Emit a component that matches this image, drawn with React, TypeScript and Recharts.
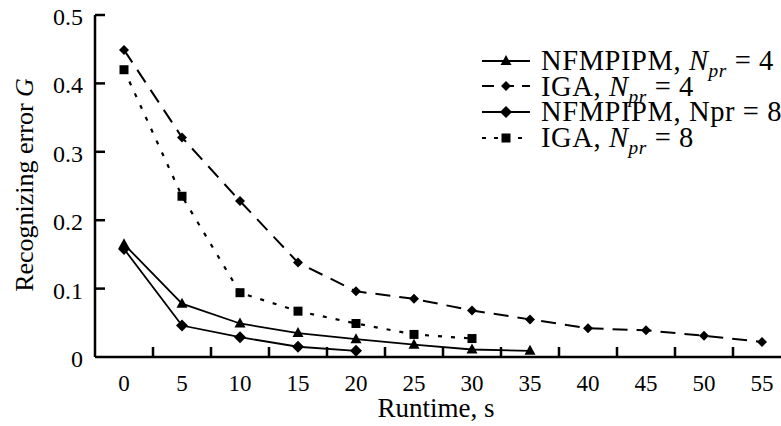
import React from 'react';
import { LineChart, Line, XAxis, YAxis, Legend, Label } from 'recharts';

// ---- data ----
const runtime = [0, 5, 10, 15, 20, 25, 30, 35, 40, 45, 50, 55];
const nfmpipm4 = [0.165, 0.078, 0.049, 0.035, 0.026, 0.018, 0.011, 0.009, null, null, null, null];
const iga4 = [0.449, 0.321, 0.228, 0.138, 0.096, 0.085, 0.068, 0.055, 0.042, 0.039, 0.031, 0.022];
const nfmpipm8 = [0.158, 0.046, 0.029, 0.015, 0.009, null, null, null, null, null, null, null];
const iga8 = [0.42, 0.235, 0.094, 0.067, 0.049, 0.033, 0.027, null, null, null, null, null];

const xTicks = [0, 5, 10, 15, 20, 25, 30, 35, 40, 45, 50, 55];
const yTicks = [0, 0.1, 0.2, 0.3, 0.4, 0.5];

const data = runtime.map((t, i) => ({
  t,
  nf4: nfmpipm4[i],
  iga4: iga4[i],
  nf8: nfmpipm8[i],
  iga8: iga8[i],
}));

const FONT = '"Liberation Serif", "Times New Roman", Times, serif';
const INK = '#000';
const X_DOMAIN: [number, number] = [-2.5, 57.5];
const Y_DOMAIN: [number, number] = [0, 0.5];
const X_STEP = 5;
const TICK_LEN = 10;
const TICK_W = 2.5;
const X_TICK_MARGIN = 18;
const Y_TICK_MARGIN = 12;

type Kind = 'triangle' | 'diamondSmall' | 'diamond' | 'square';

function Marker({ kind, cx, cy }: { kind: Kind; cx: number; cy: number }) {
  if (kind === 'triangle') {
    return <polygon points={`${cx},${cy - 6} ${cx - 5.5},${cy + 4} ${cx + 5.5},${cy + 4}`} fill={INK} />;
  }
  if (kind === 'square') {
    return <rect x={cx - 4.5} y={cy - 4.5} width={9} height={9} fill={INK} />;
  }
  const r = kind === 'diamond' ? 6 : 5;
  return <polygon points={`${cx},${cy - r} ${cx + r},${cy} ${cx},${cy + r} ${cx - r},${cy}`} fill={INK} />;
}

function makeDot(kind: Kind) {
  return (props: any) => {
    const { cx, cy, index } = props;
    const v = Array.isArray(props.value) ? props.value[1] : props.value;
    if (cx == null || cy == null || Number.isNaN(cx) || Number.isNaN(cy) || v == null) {
      return <g key={`d-${kind}-${index}`} />;
    }
    return <Marker key={`d-${kind}-${index}`} kind={kind} cx={cx} cy={cy} />;
  };
}

// X tick: label at the category centre + inward mark on the boundary between categories
const renderXTick = (props: any) => {
  const { x, y, payload, width } = props;
  const span = X_DOMAIN[1] - X_DOMAIN[0];
  const w = typeof width === 'number' && width > 100 ? width : 696;
  const half = ((X_STEP / 2) / span) * w;
  const axisY = y - X_TICK_MARGIN;
  return (
    <g>
      <text x={x} y={y} dy="0.71em" textAnchor="middle" fill={INK} fontSize={23} fontFamily={FONT}>
        {payload.value}
      </text>
      <line x1={x + half} y1={axisY} x2={x + half} y2={axisY - TICK_LEN} stroke={INK} strokeWidth={TICK_W} />
    </g>
  );
};

// Y tick: label left of the axis + inward mark
const renderYTick = (props: any) => {
  const { x, y, payload } = props;
  const axisX = x + Y_TICK_MARGIN;
  return (
    <g>
      <text x={x} y={y} dy={10} textAnchor="end" fill={INK} fontSize={24} fontFamily={FONT}>
        {payload.value === 0 ? '0' : String(payload.value)}
      </text>
      {payload.value > 0 && (
        <line x1={axisX} y1={y} x2={axisX + TICK_LEN} y2={y} stroke={INK} strokeWidth={TICK_W} />
      )}
    </g>
  );
};

const subStyle: React.CSSProperties = { fontSize: '0.68em', lineHeight: 0, fontStyle: 'italic' };

const legendRows: { kind: Kind; dash?: string; label: React.ReactNode }[] = [
  {
    kind: 'triangle',
    label: (
      <>
        NFMPIPM, <i>N</i>
        <sub style={subStyle}>pr</sub> = 4
      </>
    ),
  },
  {
    kind: 'diamondSmall',
    dash: '12 8',
    label: (
      <>
        IGA, <i>N</i>
        <sub style={subStyle}>pr</sub> = 4
      </>
    ),
  },
  { kind: 'diamond', label: <>NFMPIPM, Npr = 8</> },
  {
    kind: 'square',
    dash: '4 8',
    label: (
      <>
        IGA, <i>N</i>
        <sub style={subStyle}>pr</sub> = 8
      </>
    ),
  },
];

function LegendContent() {
  return (
    <div style={{ fontFamily: FONT, color: INK }}>
      {legendRows.map((r, i) => (
        <div key={i} style={{ display: 'flex', alignItems: 'center', height: 25.6 }}>
          <svg width={50} height={24} style={{ flex: 'none' }}>
            <line x1={1} y1={12} x2={49} y2={12} stroke={INK} strokeWidth={2} strokeDasharray={r.dash} />
            <Marker kind={r.kind} cx={25} cy={12} />
          </svg>
          <span
            style={{ marginLeft: 10, fontSize: 28.5, letterSpacing: 0.6, lineHeight: '25.6px', whiteSpace: 'nowrap' }}
          >
            {r.label}
          </span>
        </div>
      ))}
    </div>
  );
}

export default function App() {
  return (
    <div
      style={{
        position: 'fixed',
        left: 0,
        top: 0,
        width: 781,
        height: 426,
        overflow: 'hidden',
        background: '#fff',
      }}
    >
      <LineChart width={800} height={426} data={data} margin={{ top: 15, right: 9, bottom: 0, left: 0 }}>
        <XAxis
          dataKey="t"
          type="number"
          domain={X_DOMAIN}
          ticks={xTicks}
          interval={0}
          allowDataOverflow
          height={69}
          tickLine={false}
          tickSize={0}
          tickMargin={X_TICK_MARGIN}
          axisLine={{ stroke: INK, strokeWidth: 2.5 }}
          tick={renderXTick}
        >
          <Label
            value="Runtime, s"
            position="insideBottom"
            offset={9}
            dx={-7}
            style={{ fill: INK, fontSize: 27, fontFamily: FONT }}
          />
        </XAxis>
        <YAxis
          type="number"
          domain={Y_DOMAIN}
          ticks={yTicks}
          interval={0}
          allowDataOverflow
          width={95}
          tickLine={false}
          tickSize={0}
          tickMargin={Y_TICK_MARGIN}
          axisLine={{ stroke: INK, strokeWidth: 2.5 }}
          tick={renderYTick}
        >
          <Label
            content={(props: any) => {
              const vb = props.viewBox || { x: 0, y: 15, height: 342 };
              const cx = vb.x + 33;
              const cy = vb.y + vb.height / 2 - 1;
              return (
                <text
                  x={cx}
                  y={cy}
                  transform={`rotate(-90, ${cx}, ${cy})`}
                  textAnchor="middle"
                  fill={INK}
                  fontSize={26}
                  fontFamily={FONT}
                >
                  Recognizing error <tspan fontStyle="italic">G</tspan>
                </text>
              );
            }}
          />
        </YAxis>
        <Legend
          layout="vertical"
          align="center"
          verticalAlign="middle"
          content={<LegendContent />}
          wrapperStyle={{ left: 481, top: 48, width: 300, height: 104 }}
        />
        <Line
          dataKey="iga4"
          stroke={INK}
          strokeWidth={2}
          strokeDasharray="15 9"
          dot={makeDot('diamondSmall')}
          activeDot={false}
          isAnimationActive={false}
        />
        <Line
          dataKey="iga8"
          stroke={INK}
          strokeWidth={2.2}
          strokeDasharray="4 9"
          dot={makeDot('square')}
          activeDot={false}
          isAnimationActive={false}
        />
        <Line
          dataKey="nf4"
          stroke={INK}
          strokeWidth={1.8}
          dot={makeDot('triangle')}
          activeDot={false}
          isAnimationActive={false}
        />
        <Line
          dataKey="nf8"
          stroke={INK}
          strokeWidth={1.8}
          dot={makeDot('diamond')}
          activeDot={false}
          isAnimationActive={false}
        />
      </LineChart>
    </div>
  );
}
